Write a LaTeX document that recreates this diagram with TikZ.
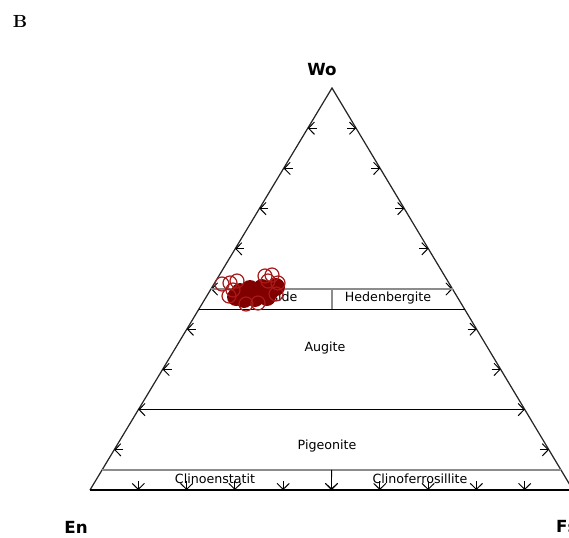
\documentclass[tikz,border=0pt]{standalone}
\usepackage{fontspec}
\setsansfont{DejaVu Sans}
\usetikzlibrary{calc,arrows.meta}
\definecolor{pxred}{rgb}{0.50,0.0,0.0}
\definecolor{pxring}{rgb}{0.66,0.10,0.10}

\begin{document}
\begin{tikzpicture}[
  x=0.02cm, y=-0.02cm,
  side/.style={line width=0.7pt, black!85},
  field/.style={line width=0.6pt, black},
  soft/.style={line width=1.3pt, black!45},
  tickmark/.style={-{Straight Barb[length=3.4pt,width=7pt]}, line width=0.55pt},
  cornerlabel/.style={font=\sffamily\bfseries\fontsize{9.5}{11}\selectfont},
  fieldlabel/.style={font=\sffamily\fontsize{7.2}{8}\selectfont, inner sep=1pt},
  ring/.style={draw=pxring, line width=0.7pt}
]
\useasboundingbox (0,0) rectangle (569,538);

% corners of the pyroxene quadrilateral
\coordinate (En) at (90,490);
\coordinate (Fs) at (573,490);
\coordinate (Wo) at (332,88);

% triangle
\draw[side] (En) -- (Wo) -- (Fs);
\draw[field] (En) -- (Fs);

% 10% ticks on all three sides
\foreach \k in {1,...,9} {
  \coordinate (l\k) at ($(En)!\k/10!(Wo)$);
  \coordinate (r\k) at ($(Fs)!\k/10!(Wo)$);
  \coordinate (b\k) at ($(En)!\k/10!(Fs)$);
  \draw[tickmark] ($(l\k)+(9,0)$) -- (l\k);
  \draw[tickmark] ($(r\k)+(-9,0)$) -- (r\k);
  \draw[tickmark] ($(b\k)+(0,-9)$) -- (b\k);
}

% field boundaries (Wo = 50, 45, 20, 5 %)
\coordinate (d1) at ($(En)!0.5!(Wo)$);
\coordinate (d2) at ($(Fs)!0.5!(Wo)$);
\coordinate (a1) at ($(En)!0.45!(Wo)$);
\coordinate (a2) at ($(Fs)!0.45!(Wo)$);
\coordinate (p1) at ($(En)!0.2!(Wo)$);
\coordinate (p2) at ($(Fs)!0.2!(Wo)$);
\coordinate (c1) at ($(En)!0.05!(Wo)$);
\coordinate (c2) at ($(Fs)!0.05!(Wo)$);
\draw[soft] (d1) -- (d2);
\draw[field] (a1) -- (a2);
\draw[field] (p1) -- (p2);
\draw[soft] (c1) -- (c2);

% split lines
\coordinate (dm) at ($(d1)!0.5!(d2)$);
\coordinate (am) at (dm |- a1);
\coordinate (cm) at ($(c1)!0.5!(c2)$);
\coordinate (bm) at ($(En)!0.5!(Fs)$);
\draw[soft] (dm) -- (am);
\draw[field, tickmark] (cm) -- (bm);

% field names
\node[fieldlabel] (diop) at (270,298) {Diopside};
\node[fieldlabel] (hed) at (388,298) {Hedenbergite};
\node[fieldlabel] (aug) at (325,348) {Augite};
\node[fieldlabel] (pig) at (327,446) {Pigeonite};
\node[fieldlabel] (cen) at (215,479) {Clinoenstatit};
\node[fieldlabel] (cfs) at (420,479) {Clinoferrosillite};

% analysed points
\foreach \px/\py in {240/292, 250/289, 262/288, 271/290, 255/298, 244/299, 267/297, 236/297, 276/287} {
  \fill[pxred] (\px,\py) circle [radius=9];
}
\foreach \px/\py in {222/284, 230/283, 237/281, 229/296, 233/290, 265/276, 272/275, 268/281, 278/283, 276/294, 258/303, 246/304} {
  \draw[ring] (\px,\py) circle [radius=7];
}

% corner and panel labels
\node[cornerlabel] (wolab) at (322,70) {Wo};
\node[cornerlabel] (enlab) at (76,527) {En};
\node[cornerlabel, anchor=west] (fslab) at (550,527) {Fs};
\node[font=\bfseries\fontsize{10}{12}\selectfont] (panel) at (20,21) {B};
\end{tikzpicture}
\end{document}
